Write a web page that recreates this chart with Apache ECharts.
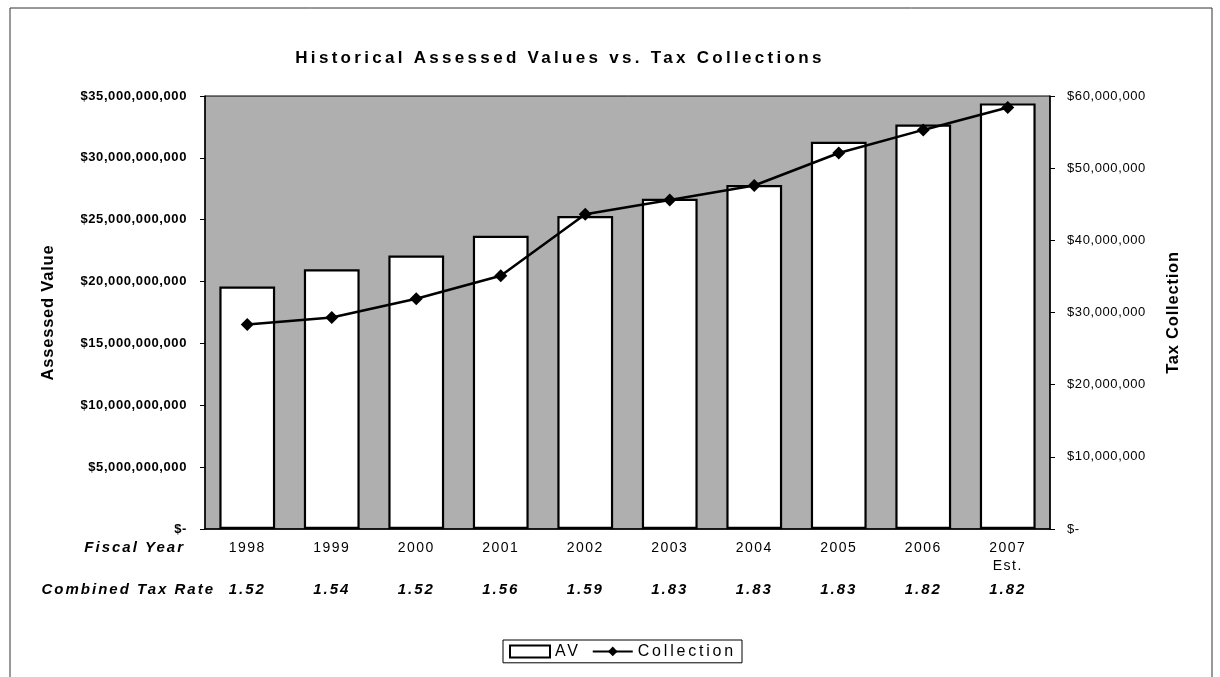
<!DOCTYPE html>
<html>
<head>
<meta charset="utf-8">
<script src="https://cdn.jsdelivr.net/npm/echarts@6/dist/echarts.min.js"></script>
<style>
  html, body { margin: 0; padding: 0; background: #fff; }
  #chart { width: 1220px; height: 677px; }
</style>
</head>
<body>
<div id="chart"></div>
<script>
const years = ['1998', '1999', '2000', '2001', '2002', '2003', '2004', '2005', '2006', '2007\nEst.'];
const assessedValues = [19.6e9, 21.0e9, 22.1e9, 23.7e9, 25.3e9, 26.7e9, 27.8e9, 31.3e9, 32.7e9, 34.4e9];
const collections = [28.35e6, 29.3e6, 31.9e6, 35.1e6, 43.6e6, 45.6e6, 47.6e6, 52.1e6, 55.3e6, 58.4e6];
const taxRates = ['1.52', '1.54', '1.52', '1.56', '1.59', '1.83', '1.83', '1.83', '1.82', '1.82'];

// the scanned original uses widely spaced lettering; canvas letterSpacing per font size
const spacing = { 17: 3.3, 16.5: 0.8, 16: 2.8, 15: 2, 14: 1.5, 13: 0.6 };
['fillText', 'measureText'].forEach(fn => {
    const orig = CanvasRenderingContext2D.prototype[fn];
    CanvasRenderingContext2D.prototype[fn] = function (...args) {
        const m = /([\d.]+)px/.exec(this.font);
        this.letterSpacing = ((m && spacing[m[1]]) || 0) + 'px';
        return orig.apply(this, args);
    };
});

const font = "'Liberation Sans', Arial, sans-serif";
const money = v => v === 0 ? '$-' : '$' + v.toLocaleString('en-US');

let chart = echarts.init(document.getElementById('chart'));
let option = {
    animation: false,
    textStyle: { fontFamily: font, color: '#000' },
    grid: {
        left: 205, right: 170, top: 96, bottom: 148,
        show: true, backgroundColor: '#afafaf', borderColor: '#000', borderWidth: 1
    },
    legend: {
        left: 503, top: 640,
        data: [{ name: 'AV', icon: 'rect' }, 'Collection'],
        borderColor: '#000', borderWidth: 1, padding: [2, 6],
        itemWidth: 40, itemHeight: 12, itemGap: 11,
        textStyle: { fontSize: 16, color: '#000', fontFamily: font }
    },
    xAxis: [
        {
            type: 'category', data: years,
            axisLine: { lineStyle: { color: '#000', width: 1.5 } },
            axisTick: { lineStyle: { color: '#000' }, length: 5 },
            axisLabel: { fontSize: 14, color: '#000', margin: 10, lineHeight: 18, fontFamily: font }
        },
        {
            type: 'category', data: taxRates, position: 'bottom', offset: 42,
            axisLine: { show: false }, axisTick: { show: false },
            axisLabel: {
                fontSize: 15, fontWeight: 'bold', fontStyle: 'italic', color: '#000',
                margin: 10, lineHeight: 18, fontFamily: font
            }
        }
    ],
    yAxis: [
        {
            type: 'value', min: 0, max: 35e9, interval: 5e9,
            name: 'Assessed Value', nameLocation: 'middle', nameGap: 148,
            nameTextStyle: { fontSize: 16.5, fontWeight: 'bold', color: '#000', fontFamily: font },
            axisLine: { show: true, lineStyle: { color: '#000', width: 1.5 } },
            axisTick: { show: true, length: 5, lineStyle: { color: '#000' } },
            splitLine: { show: false },
            axisLabel: { fontSize: 13, fontWeight: 'bold', color: '#000', margin: 18, formatter: money, fontFamily: font }
        },
        {
            type: 'value', min: 0, max: 60e6, interval: 10e6, position: 'right',
            name: 'Tax Collection', nameLocation: 'middle', nameGap: 115,
            nameTextStyle: { fontSize: 16.5, fontWeight: 'bold', color: '#000', fontFamily: font },
            axisLine: { show: true, lineStyle: { color: '#000', width: 1.5 } },
            axisTick: { show: true, length: 5, lineStyle: { color: '#000' } },
            splitLine: { show: false },
            axisLabel: { fontSize: 13, color: '#000', margin: 17, formatter: money, fontFamily: font }
        }
    ],
    series: [
        {
            name: 'AV', type: 'bar', data: assessedValues, barWidth: '66%',
            itemStyle: { color: '#fff', borderColor: '#000', borderWidth: 2.2 }
        },
        {
            name: 'Collection', type: 'line', yAxisIndex: 1, data: collections,
            symbol: 'diamond', symbolSize: 13,
            lineStyle: { color: '#000', width: 2.5 },
            itemStyle: { color: '#000' }
        }
    ],
    graphic: [
        {
            type: 'rect', shape: { x: 10, y: 8, width: 1202, height: 700 },
            style: { fill: 'none', stroke: '#333', lineWidth: 1 }, silent: true
        },
        {
            type: 'text', x: 560, y: 58,
            style: {
                text: 'Historical Assessed Values vs. Tax Collections',
                font: "bold 17px 'Liberation Sans', Arial, sans-serif",
                fill: '#000', textAlign: 'center', textVerticalAlign: 'middle'
            }
        },
        {
            type: 'text', x: 185, y: 548,
            style: {
                text: 'Fiscal Year',
                font: "italic bold 15px 'Liberation Sans', Arial, sans-serif",
                fill: '#000', textAlign: 'right', textVerticalAlign: 'middle'
            }
        },
        {
            type: 'text', x: 215, y: 590,
            style: {
                text: 'Combined Tax Rate',
                font: "italic bold 15px 'Liberation Sans', Arial, sans-serif",
                fill: '#000', textAlign: 'right', textVerticalAlign: 'middle'
            }
        }
    ]
};
chart.setOption(option);
</script>
</body>
</html>
